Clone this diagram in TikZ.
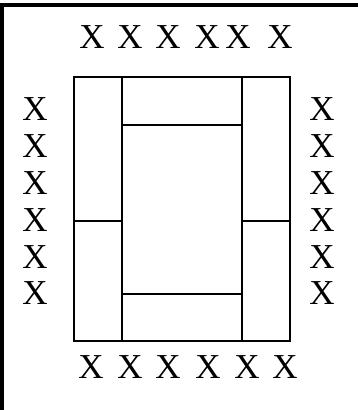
\documentclass[tikz,border=0pt]{standalone}
\usepackage{fontspec}
\setmainfont{Liberation Serif}
\usetikzlibrary{positioning}
\tikzset{seat/.style={font=\fontsize{35}{38}\selectfont,inner sep=0pt}}
\begin{document}
\begin{tikzpicture}[x=1pt,y=-1pt]
  \useasboundingbox (0,0) rectangle (358,410);
  % ---- frame, left and top edges only ----
  \draw[line width=4.5pt] (2,410) -- (2,5) -- (358,5);
  % ---- table outline ----
  \coordinate (tl) at (73.5,76.5);
  \coordinate (br) at (290,341);
  \draw[line width=2pt] (tl) rectangle (br);
  % inner verticals
  \draw[line width=2pt] (121.5,76.5) -- (121.5,341);
  \draw[line width=2pt] (242,76.5) -- (242,341);
  % top and bottom panels
  \draw[line width=2pt] (121.5,125) -- (242,125);
  \draw[line width=2pt] (121.5,293.5) -- (242,293.5);
  % side panels split in two
  \draw[line width=2pt] (73.5,221) -- (121.5,221);
  \draw[line width=2pt] (242,221) -- (290,221);
  % ---- X marks ----
  \foreach \xx [count=\i] in {92,130,168,207,238,280}
    \node[seat] (top\i) at (\xx,37) {X};
  \foreach \xx [count=\i] in {91,130,168,208,247,285}
    \node[seat] (bot\i) at (\xx,367) {X};
  \foreach \yy [count=\i] in {109,146,183,220,257,293}
  {
    \node[seat] (lft\i) at (35,\yy) {X};
    \node[seat] (rgt\i) at (322,\yy) {X};
  }
\end{tikzpicture}
\end{document}
